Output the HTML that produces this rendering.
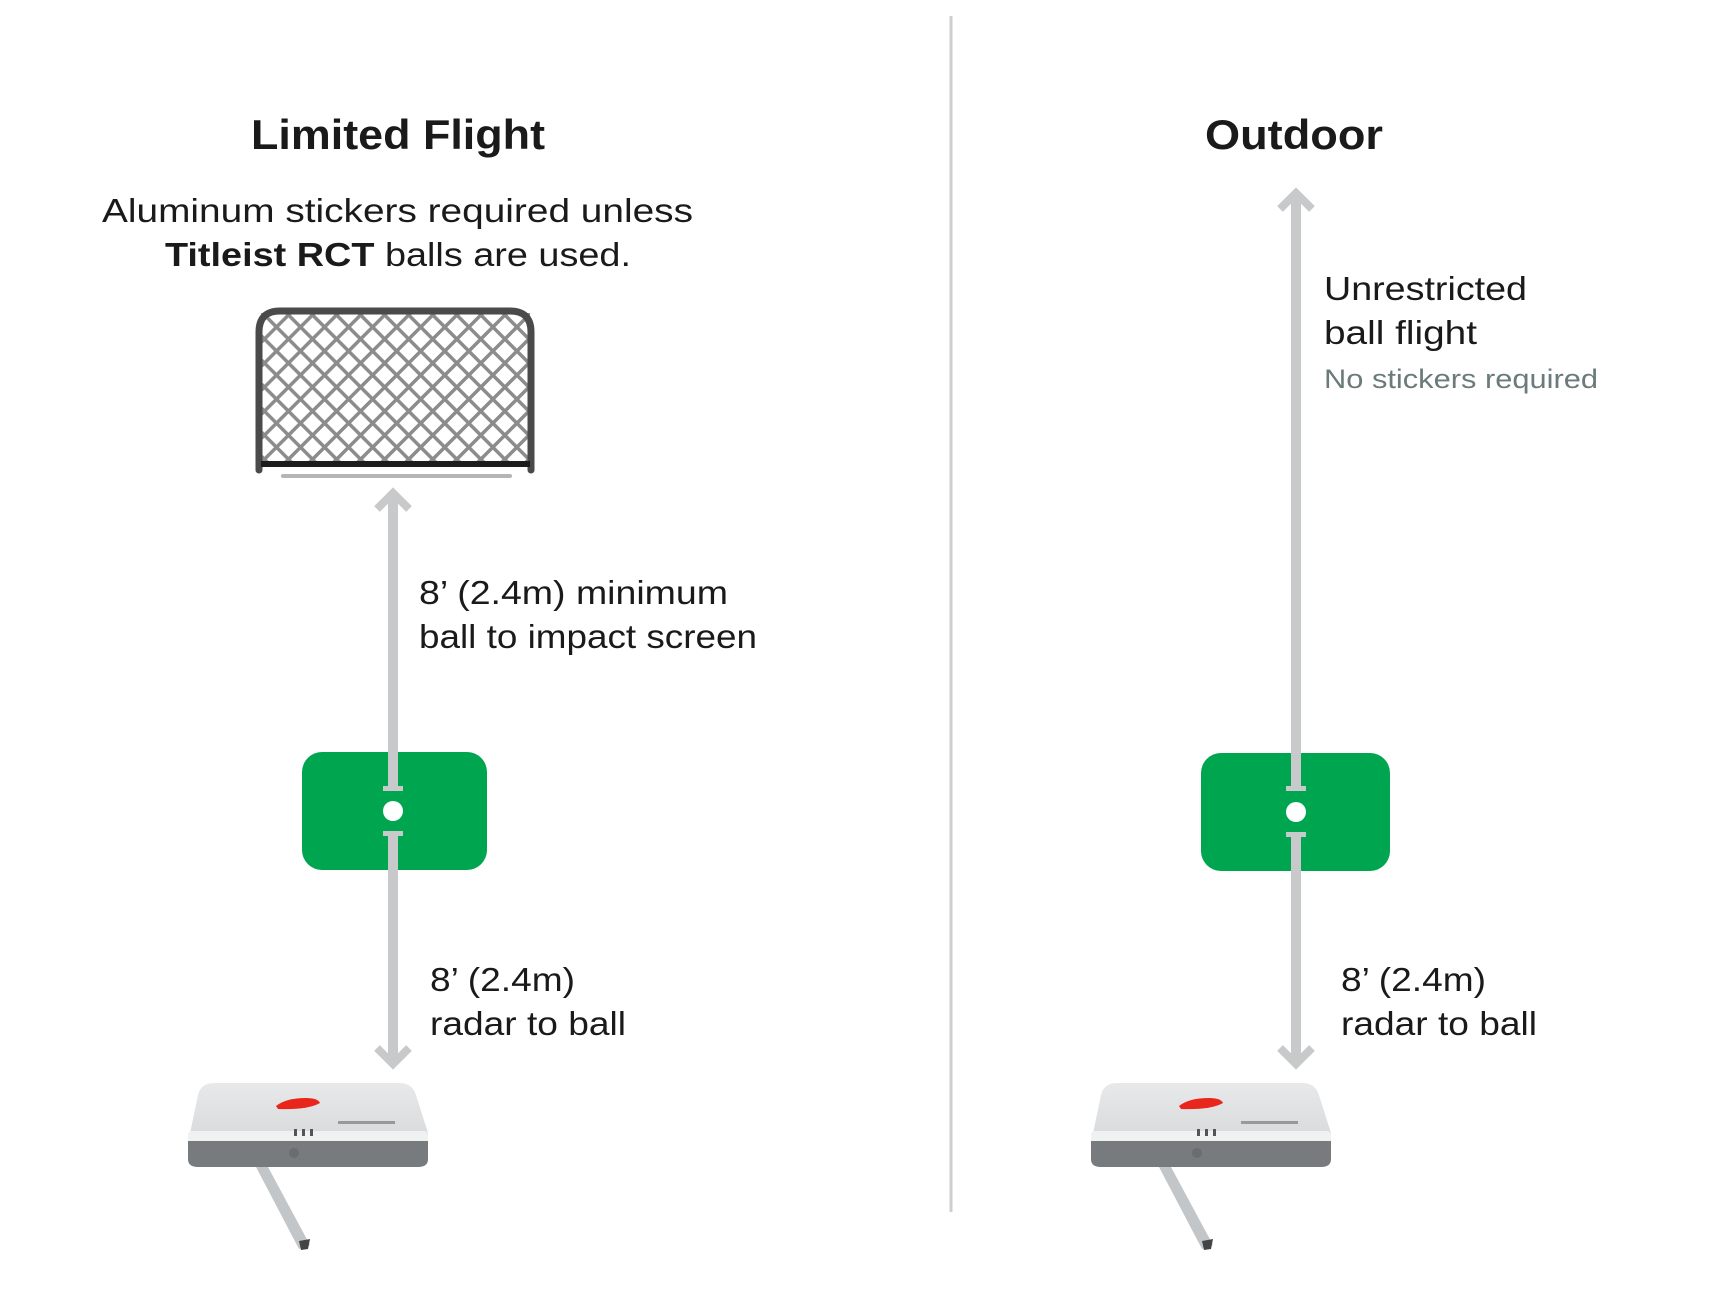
<!DOCTYPE html>
<html><head><meta charset="utf-8"><style>
html,body{margin:0;padding:0;background:#fff;}
svg{display:block;}
text{font-family:"Liberation Sans",sans-serif;fill:#1a1a1a;}
</style></head><body>
<svg width="1710" height="1290" viewBox="0 0 1710 1290" xmlns="http://www.w3.org/2000/svg">
<defs>
<pattern id="net" width="17" height="17" patternUnits="userSpaceOnUse" patternTransform="rotate(45)">
<rect width="17" height="17" fill="#fff"/>
<rect x="0" y="0" width="3.5" height="17" fill="#8c8c8c"/>
<rect x="0" y="0" width="17" height="3.5" fill="#8c8c8c"/>
</pattern>
<linearGradient id="top" x1="0" y1="0" x2="0" y2="1"><stop offset="0" stop-color="#e8e9ea"/><stop offset="1" stop-color="#d6d8d9"/></linearGradient>
<g id="radar">
<path d="M0,60 L10,12 Q13,0 26,0 H212 Q224,0 228,12 L240,50 V62 Z" fill="url(#top)"/>
<rect x="0" y="48" width="240" height="12" rx="4" fill="#f0f1f1"/>
<path d="M0,58 H240 V76 Q240,84 230,84 H10 Q0,84 0,76 Z" fill="#777b7d"/>
<path d="M88,23 Q98,15 118,15 Q130,15 132,20 Q120,27 90,26 Z" fill="#e8261c"/>
<rect x="150" y="38" width="57" height="3" fill="#999"/>
<rect x="106" y="46" width="3" height="7" fill="#555"/><rect x="114" y="46" width="3" height="7" fill="#555"/><rect x="122" y="46" width="3" height="7" fill="#555"/>
<circle cx="106" cy="70" r="5" fill="#6a6d6f"/>
<polygon points="68,84 80,84 122,162 111,166" fill="#c3c6c8"/>
<polygon points="111,158 122,156 120,166 113,167" fill="#444"/>
</g>
</defs>

<line x1="951" y1="16" x2="951" y2="1212" stroke="#cfcfcf" stroke-width="3"/>

<!-- LEFT -->
<text x="251" y="149" font-size="42" font-weight="bold" textLength="294" lengthAdjust="spacingAndGlyphs">Limited Flight</text>
<text x="102" y="222" font-size="33" textLength="591" lengthAdjust="spacingAndGlyphs">Aluminum stickers required unless</text>
<text x="165" y="266" font-size="33" textLength="466" lengthAdjust="spacingAndGlyphs"><tspan font-weight="bold">Titleist RCT</tspan> balls are used.</text>

<rect x="261" y="313" width="269" height="150" fill="url(#net)"/>
<path d="M259,470 V332 Q259,311 280,311 H510 Q531,311 531,332 V470" fill="none" stroke="#4a4a4a" stroke-width="7" stroke-linecap="round"/>
<rect x="261" y="461" width="269" height="6" fill="#1c1c1c"/>
<line x1="283" y1="476" x2="510" y2="476" stroke="#b5b5b5" stroke-width="4" stroke-linecap="round"/>

<rect x="302" y="752" width="185" height="118" rx="20" fill="#00a54f"/>
<line x1="393" y1="494" x2="393" y2="788" stroke="#c8c9cb" stroke-width="10"/>
<polyline points="377,509 393,493 409,509" fill="none" stroke="#c8c9cb" stroke-width="8"/>
<rect x="383" y="786" width="20" height="5" fill="#c8c9cb"/>
<circle cx="393" cy="811" r="10" fill="#fff"/>
<rect x="383" y="831" width="20" height="5" fill="#c8c9cb"/>
<line x1="393" y1="834" x2="393" y2="1062" stroke="#c8c9cb" stroke-width="10"/>
<polyline points="377,1048 393,1064 409,1048" fill="none" stroke="#c8c9cb" stroke-width="8"/>

<text x="419" y="604" font-size="33" textLength="309" lengthAdjust="spacingAndGlyphs">8’ (2.4m) minimum</text>
<text x="419" y="648" font-size="33" textLength="338" lengthAdjust="spacingAndGlyphs">ball to impact screen</text>
<text x="430" y="991" font-size="33" textLength="145" lengthAdjust="spacingAndGlyphs">8’ (2.4m)</text>
<text x="430" y="1035" font-size="33" textLength="196" lengthAdjust="spacingAndGlyphs">radar to ball</text>

<use href="#radar" x="188" y="1083"/>

<!-- RIGHT -->
<text x="1205" y="149" font-size="42" font-weight="bold" textLength="178" lengthAdjust="spacingAndGlyphs">Outdoor</text>
<line x1="1296" y1="196" x2="1296" y2="788" stroke="#c8c9cb" stroke-width="10"/>
<polyline points="1280,209 1296,193 1312,209" fill="none" stroke="#c8c9cb" stroke-width="8"/>
<text x="1324" y="300" font-size="33" textLength="203" lengthAdjust="spacingAndGlyphs">Unrestricted</text>
<text x="1324" y="344" font-size="33" textLength="153" lengthAdjust="spacingAndGlyphs">ball flight</text>
<text x="1324" y="388" font-size="27" style="fill:#6b7a7a" textLength="274" lengthAdjust="spacingAndGlyphs">No stickers required</text>

<rect x="1201" y="753" width="189" height="118" rx="20" fill="#00a54f"/>
<line x1="1296" y1="740" x2="1296" y2="788" stroke="#c8c9cb" stroke-width="10"/>
<rect x="1286" y="786" width="20" height="5" fill="#c8c9cb"/>
<circle cx="1296" cy="812" r="10" fill="#fff"/>
<rect x="1286" y="832" width="20" height="5" fill="#c8c9cb"/>
<line x1="1296" y1="835" x2="1296" y2="1062" stroke="#c8c9cb" stroke-width="10"/>
<polyline points="1280,1048 1296,1064 1312,1048" fill="none" stroke="#c8c9cb" stroke-width="8"/>
<text x="1341" y="991" font-size="33" textLength="145" lengthAdjust="spacingAndGlyphs">8’ (2.4m)</text>
<text x="1341" y="1035" font-size="33" textLength="196" lengthAdjust="spacingAndGlyphs">radar to ball</text>

<use href="#radar" x="1091" y="1083"/>
</svg>
</body></html>
